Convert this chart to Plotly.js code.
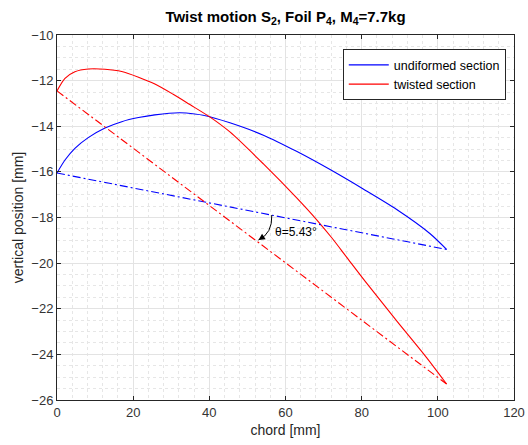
<!DOCTYPE html>
<html>
<head>
<meta charset="utf-8">
<script src="https://cdn.plot.ly/plotly-3.0.1.min.js"></script>
<style>html,body{margin:0;padding:0;background:#fff;}#chart{width:528px;height:445px;}</style>
</head>
<body>
<div id="chart"></div>
<script>
// Undeformed section (upper surface)
const undeformedX = [0, 2.1, 4.7, 8.2, 12.6, 17, 21.4, 25.7, 32.3, 39.3, 45.4, 54.2, 62.9, 71.7, 80.4, 89.2, 97.9, 102.3];
const undeformedY = [-16.05, -15.48, -14.97, -14.5, -14.08, -13.8, -13.62, -13.5, -13.41, -13.55, -13.85, -14.39, -15.1, -15.9, -16.75, -17.65, -18.7, -19.4];
// Twisted section
const twistedX = [0, 2.1, 4.7, 8.2, 12.6, 17, 21.4, 25.7, 30.5, 34.9, 40.2, 45.4, 54.2, 63, 68.2, 72.2, 76.1, 81.4, 89.3, 97.1, 102.3];
const twistedY = [-12.45, -11.9, -11.61, -11.49, -11.5, -11.6, -11.85, -12.15, -12.6, -13.05, -13.6, -14.25, -15.65, -17.15, -18.1, -18.9, -19.75, -20.9, -22.55, -24.15, -25.3];
// Chord lines
const chordUndefX = [0, 102.3];
const chordUndefY = [-16.05, -19.4];
const chordTwistX = [0, 102.3];
const chordTwistY = [-12.45, -25.3];
// Angle annotation
const angleLabel = "θ=5.43°";
const arcX = [56.4, 56.6, 52.9];
const arcY = [-17.89, -18.7, -18.99];

const blue = '#0000ff', red = '#ff0000';
const traces = [
  {x: undeformedX, y: undeformedY, mode: 'lines', name: 'undiformed section', line: {color: blue, width: 1.1, shape: 'spline', smoothing: 0.8}},
  {x: twistedX, y: twistedY, mode: 'lines', name: 'twisted section', line: {color: red, width: 1.1, shape: 'spline', smoothing: 0.8}},
  {x: chordUndefX, y: chordUndefY, mode: 'lines', showlegend: false, line: {color: blue, width: 1.1, dash: '8px,3px,2px,3px'}},
  {x: chordTwistX, y: chordTwistY, mode: 'lines', showlegend: false, line: {color: red, width: 1.1, dash: '8px,3px,2px,3px'}}
];

const axisCommon = {
  showline: true, linecolor: '#262626', linewidth: 1, mirror: 'ticks',
  ticks: 'inside', ticklen: 4, tickcolor: '#262626',
  showgrid: true, gridcolor: '#e3e3e3', gridwidth: 1,
  zeroline: false,
  tickfont: {family: 'Liberation Sans, Arial, sans-serif', size: 13, color: '#333333'}
};

const layout = {
  width: 528, height: 445,
  margin: {l: 57, r: 14, t: 35, b: 45},
  paper_bgcolor: '#fff', plot_bgcolor: '#fff',
  font: {family: 'Liberation Sans, Arial, sans-serif', color: '#262626'},
  title: {text: '<b>Twist motion S<sub>2</sub>, Foil P<sub>4</sub>, M<sub>4</sub>=7.7kg</b>', xref: 'paper', x: 0.5, xanchor: 'center', yref: 'container', y: 0.962, yanchor: 'middle', font: {size: 15, color: '#000'}},
  xaxis: Object.assign({}, axisCommon, {
    range: [0, 120], dtick: 20, tick0: 0,
    title: {text: 'chord [mm]', font: {size: 14, color: '#262626'}, standoff: 6},
    minor: {dtick: 4, showgrid: true, gridcolor: '#e6e6e6', griddash: 'dot', ticks: ''}
  }),
  yaxis: Object.assign({}, axisCommon, {
    range: [-26, -10], dtick: 2, tick0: -26,
    title: {text: 'vertical position [mm]', font: {size: 14, color: '#262626'}, standoff: 4},
    minor: {dtick: 0.5, showgrid: true, gridcolor: '#e6e6e6', griddash: 'dot', ticks: ''}
  }),
  legend: {
    x: 0.982, xanchor: 'right', y: 0.961, yanchor: 'top',
    bgcolor: '#fff', bordercolor: '#262626', borderwidth: 1,
    font: {size: 12.5, color: '#000'}, tracegroupgap: 0, itemwidth: 40
  },
  shapes: [{
    type: 'path', xref: 'x', yref: 'y',
    path: 'M ' + arcX[0] + ',' + arcY[0] + ' Q ' + arcX[1] + ',' + arcY[1] + ' ' + arcX[2] + ',' + arcY[2],
    line: {color: '#000', width: 1}
  }],
  annotations: [
    {x: arcX[2], y: arcY[2], ax: 3, ay: -2, xref: 'x', yref: 'y', axref: 'pixel', ayref: 'pixel', text: '', showarrow: true, arrowhead: 2, arrowsize: 1.3, arrowwidth: 1, arrowcolor: '#000'},
    {x: 56.7, y: -18.62, xref: 'x', yref: 'y', text: angleLabel, showarrow: false, xanchor: 'left', yanchor: 'middle', font: {size: 12, color: '#000'}}
  ]
};

Plotly.newPlot('chart', traces, layout, {displayModeBar: false, staticPlot: true});
</script>
</body>
</html>
